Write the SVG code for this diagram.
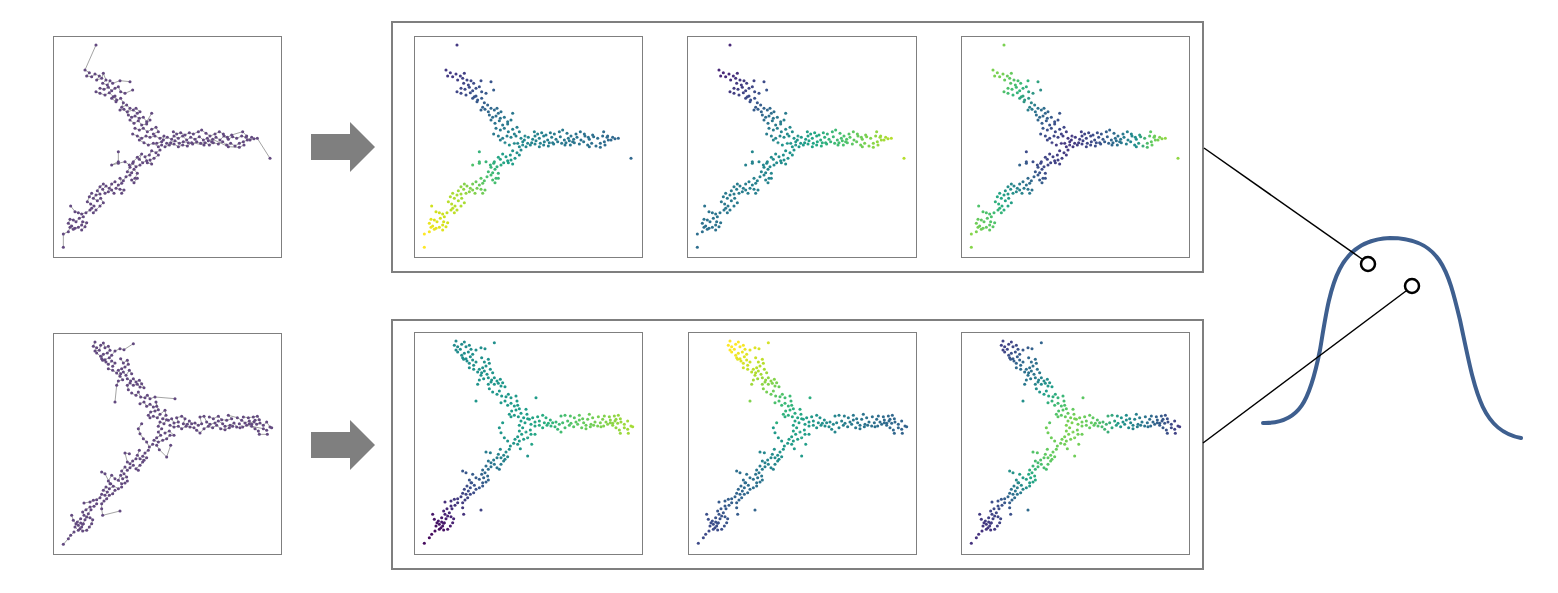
<svg xmlns="http://www.w3.org/2000/svg" xmlns:xlink="http://www.w3.org/1999/xlink" width="1558" height="593" viewBox="0 0 1558 593">
<style>
.frame{fill:#fff;stroke:#7f7f7f;stroke-width:1}
.box{fill:none;stroke:#7f7f7f;stroke-width:2}
.edges{fill:none;stroke:#8c8c8c;stroke-width:2.4;marker-start:url(#mP);marker-mid:url(#mP);marker-end:url(#mP)}
.mw{fill:none;stroke:none;marker-start:url(#mW);marker-mid:url(#mW);marker-end:url(#mW)}
.arrow{fill:#7f7f7f}
.curve{fill:none;stroke:#3e5f8f;stroke-width:4;stroke-linecap:round}
.ring{fill:none;stroke:#000;stroke-width:2.5}
.link{stroke:#000;stroke-width:1.5}
</style>
<defs>
<marker id="mP" markerUnits="userSpaceOnUse" markerWidth="10" markerHeight="10" refX="5" refY="5" overflow="visible"><circle cx="5" cy="5" r="4.6" fill="#634a80"/></marker>
<marker id="mW" markerUnits="userSpaceOnUse" markerWidth="10" markerHeight="10" refX="5" refY="5" overflow="visible"><circle cx="5" cy="5" r="4.6" fill="#fff"/></marker>
<path id="ptsA" d="M138,45 L105,120 L118,128 L110,138 L125,140 L135,132 L148,138 L140,150 L155,145 L160,130 L168,150 L158,160 L172,165 L180,152 L188,160 L210,152 L240,155
M150,175 L162,178 L175,172 L185,182 L195,175 L205,170 L212,185 L225,190 L248,180
M138,185 L150,190 L165,195 L178,188 L190,200 L200,210 L195,198
M185,205 L198,215 L212,205 L220,218 L215,232 L230,225 L240,235 L232,245 L250,240 L262,250 L270,245 L258,235
M210,240 L222,238 L235,255 L245,262 L255,258 L268,265 L280,262 L290,275 L305,250
M240,270 L252,280 L265,272 L275,285 L290,282 L300,270
M255,295 L268,300 L280,295 L292,305 L305,298 L318,292 L325,305 L310,312
M248,312 L262,318 L275,325 L288,318 L300,322 L315,318 L330,325 L342,318 L335,335 L320,340
M268,330 L282,338 L295,345 L310,340 L325,350 L335,345
M340,330 L352,322 L365,328 L372,318 L385,325 L398,318 L410,330 L422,322 L435,328 L448,320 L460,330 L472,325 L485,335 L498,322 L510,330 L522,318 L535,328 L548,320 L560,325 L575,318 L588,322 L600,330 L612,326 L622,325 L660,385
M350,340 L362,338 L375,332 L388,340 L400,335 L415,338 L428,342 L440,335 L452,340 L465,338 L478,345 L490,338 L505,342 L518,335 L530,345 L542,340 L555,348 L568,340 L580,335 L592,330 L605,322
M370,305 L380,312 L392,308 L405,315 L418,308 L430,312 L445,305 L455,300 L468,310 L480,318 L495,312 L508,305 L520,312 L532,322 L545,315 L578,305 L590,318
M345,350 L358,345 L372,342 L385,350 L398,345 L412,348 L425,338 L462,345 L475,332 L488,328 L535,350 L568,352 L582,345
M330,360 L318,368 L305,362 L298,375 L285,380 L290,392 L278,398 L268,388 L275,372 L262,382 L250,395
M325,375 L312,385 L300,390 L305,402 L292,398
M270,405 L258,410 L248,400 L240,412 L232,425 L245,428 L252,418 L262,430 L255,445 L245,450 L252,458 L262,445
M205,365 L205,395 L185,405 L205,400 L225,395 L238,405
M240,435 L228,440 L220,452 L210,445 L215,460 L205,465 L198,475 L210,478 L222,480 L215,490
M195,455 L185,462 L178,475 L168,468 L158,478 L165,490 L175,485 L185,480 L192,490
M160,462 L150,470 L142,482 L150,492 L138,495 L130,505 L142,512 L152,505 L160,518 L150,528 L138,540 L130,548
M125,490 L118,500 L112,515 L122,522 L132,528 L125,535
M120,540 L108,548 L95,552 L85,548 L75,545 L62,528
M100,560 L88,565 L78,575 L70,570 L60,568 L55,580 L65,588 L75,595 L85,592 L95,585 L98,575 L110,578 L105,590 L95,600
M70,598 L60,592 L55,605 L40,612 L40,652"/>
<path id="ptsB" d="M135,45 L130,58 L140,62 L135,72 L148,70 L152,55 L160,48 L165,62 L175,58 L180,70 L172,78 L160,82 L155,95 L165,98 L178,92 L185,85 L195,72 L210,65 L222,68 L250,50
M140,78 L152,88 L158,100 L168,105 L175,112 L185,102 L195,108 L188,118
M212,95 L220,108 L232,100 L235,112 L225,120 L215,125 L205,130 L212,140 L220,135 L228,145 L238,130 L245,140
M175,125 L188,130 L200,138 L210,148 L218,158 L205,162 L200,175 L195,225
M232,155 L242,162 L250,155 L258,165 L268,160 L275,170 L282,182 L270,180 L262,172 L250,175 L240,168 L232,175 L235,188
M245,198 L258,205 L265,195 L272,210 L285,212 L292,205 L300,215 L315,210 L375,215
M270,230 L282,225 L290,238 L300,232 L310,240 L320,238 L318,225 L325,248 L315,252 L302,255 L295,265 L300,272
M310,268 L322,272 L330,262 L345,250 L348,265 L338,275 L350,278 L342,290 L330,285 L325,298
M355,280 L365,275 L372,288 L385,285 L380,272 L395,268 L405,275 L400,290 L412,292 L418,282 L425,290 L435,288 L445,295 L455,290 L450,270 L462,268 L470,285 L480,292 L495,288 L505,282 L518,290 L525,298 L540,295 L552,288 L560,300 L570,302
M360,295 L372,300 L385,298 L395,305 L408,298 L420,300 L432,302 L440,310 L450,318 L462,305 L475,298 L488,302 L500,295 L512,305 L525,308 L538,302 L548,298
M478,270 L490,275 L505,268 L515,278 L530,280 L545,275 L535,265 L562,272 L575,280 L585,288 L598,282 L605,292 L612,285 L620,292 L630,288 L640,295 L650,285 L660,300 L665,302
M580,270 L595,272 L610,270 L622,268 L628,278 L615,280 L598,290 L605,298 L615,305 L625,312 L628,322 L652,322
M568,290 L578,300 L590,295 L640,305 L650,310
M335,305 L325,315 L332,325 L320,332 L312,340 L325,345 L338,340 L350,335 L360,325 L372,325 L358,312 L345,318
M320,355 L328,368 L350,390 L362,355
M308,352 L298,360 L290,345 L280,335 L270,320 L265,305 L275,290
M295,370 L285,378 L278,388 L290,392 L282,400 L270,395 L262,385 L268,370
M258,395 L248,402 L240,410 L232,405 L225,378 L238,380
M250,415 L240,422 L232,430 L225,420 L215,432 L222,440 L230,450 L218,455 L212,445 L205,460 L215,470 L225,468 L232,462
M265,430 L258,425 L270,415 L278,405
M195,455 L185,445 L175,462 L182,470 L190,478 L178,485 L168,480 L160,490 L172,495 L165,505 L155,502 L150,512 L140,518 L130,520 L120,525 L102,528
M195,490 L188,500 L178,505 L170,515 L162,522 L155,530 L155,545 L158,565 L210,552
M155,435 L165,440 L180,470 L205,485 L215,480
M140,530 L132,538 L120,540 L108,548 L98,555 L102,565 L110,570 L120,572 L128,578 L125,590 L118,600 L110,610 L98,612 L90,605 L85,595 L78,590 L70,580 L65,565
M92,575 L82,585 L75,600 L85,610 L95,600 L100,590 L92,588
M123,548 L115,560 L105,578 L98,592
M72,615 L62,625 L55,635 L40,652"/>
<mask id="mA" maskUnits="userSpaceOnUse" x="-50" y="-50" width="800" height="800"><use href="#ptsA" class="mw"/></mask>
<mask id="mB" maskUnits="userSpaceOnUse" x="-50" y="-50" width="800" height="800"><use href="#ptsB" class="mw"/></mask>
<polygon id="tlA" points="330,335 640,-50 -50,-50 -50,380"/>
<polygon id="rA" points="330,335 640,-50 750,-50 750,750 450,750"/>
<polygon id="blA" points="330,335 450,750 -50,750 -50,380"/>
<polygon id="tlB" points="335,292 560,-50 -50,-50 -50,335"/>
<polygon id="rB" points="335,292 560,-50 750,-50 750,750 500,750"/>
<polygon id="blB" points="335,292 500,750 -50,750 -50,335"/>
<linearGradient id="a1t" gradientUnits="userSpaceOnUse" x1="330" y1="335" x2="130" y2="130"><stop offset="0" stop-color="#23898e"/><stop offset="0.35" stop-color="#2c728e"/><stop offset="0.7" stop-color="#3b528b"/><stop offset="1" stop-color="#443983"/></linearGradient>
<linearGradient id="a1r" gradientUnits="userSpaceOnUse" x1="340" y1="330" x2="620" y2="325"><stop offset="0" stop-color="#23898e"/><stop offset="0.3" stop-color="#287c8e"/><stop offset="1" stop-color="#31688e"/></linearGradient>
<linearGradient id="a1b" gradientUnits="userSpaceOnUse" x1="330" y1="355" x2="50" y2="620"><stop offset="0" stop-color="#23898e"/><stop offset="0.15" stop-color="#1fa187"/><stop offset="0.35" stop-color="#4ac16d"/><stop offset="0.6" stop-color="#a5db36"/><stop offset="0.85" stop-color="#d8e219"/><stop offset="1" stop-color="#fde725"/></linearGradient>
<linearGradient id="a2t" gradientUnits="userSpaceOnUse" x1="330" y1="335" x2="130" y2="130"><stop offset="0" stop-color="#1f968b"/><stop offset="0.3" stop-color="#2a788e"/><stop offset="0.6" stop-color="#3b528b"/><stop offset="1" stop-color="#482878"/></linearGradient>
<linearGradient id="a2r" gradientUnits="userSpaceOnUse" x1="340" y1="330" x2="620" y2="325"><stop offset="0" stop-color="#1f968b"/><stop offset="0.2" stop-color="#22a884"/><stop offset="0.5" stop-color="#4ac16d"/><stop offset="0.8" stop-color="#86d549"/><stop offset="1" stop-color="#b5de2b"/></linearGradient>
<linearGradient id="a2b" gradientUnits="userSpaceOnUse" x1="330" y1="355" x2="50" y2="620"><stop offset="0" stop-color="#1f968b"/><stop offset="0.3" stop-color="#25848e"/><stop offset="1" stop-color="#2e6e8e"/></linearGradient>
<linearGradient id="a3t" gradientUnits="userSpaceOnUse" x1="330" y1="335" x2="130" y2="130"><stop offset="0" stop-color="#453781"/><stop offset="0.25" stop-color="#3b528b"/><stop offset="0.5" stop-color="#2a788e"/><stop offset="0.75" stop-color="#35b779"/><stop offset="1" stop-color="#7ad151"/></linearGradient>
<linearGradient id="a3r" gradientUnits="userSpaceOnUse" x1="340" y1="330" x2="620" y2="325"><stop offset="0" stop-color="#453781"/><stop offset="0.3" stop-color="#3b528b"/><stop offset="0.5" stop-color="#2c728e"/><stop offset="0.7" stop-color="#21918c"/><stop offset="0.85" stop-color="#5ec962"/><stop offset="1" stop-color="#8fd744"/></linearGradient>
<linearGradient id="a3b" gradientUnits="userSpaceOnUse" x1="330" y1="355" x2="50" y2="620"><stop offset="0" stop-color="#453781"/><stop offset="0.25" stop-color="#3e4a89"/><stop offset="0.45" stop-color="#2a788e"/><stop offset="0.65" stop-color="#22a884"/><stop offset="0.8" stop-color="#4ac16d"/><stop offset="1" stop-color="#86d549"/></linearGradient>
<linearGradient id="b1t" gradientUnits="userSpaceOnUse" x1="335" y1="290" x2="150" y2="65"><stop offset="0" stop-color="#1f9e89"/><stop offset="0.5" stop-color="#1f968b"/><stop offset="1" stop-color="#228c8d"/></linearGradient>
<linearGradient id="b1r" gradientUnits="userSpaceOnUse" x1="345" y1="290" x2="660" y2="300"><stop offset="0" stop-color="#1f9e89"/><stop offset="0.2" stop-color="#2ab07f"/><stop offset="0.5" stop-color="#5ec962"/><stop offset="1" stop-color="#a5db36"/></linearGradient>
<linearGradient id="b1b" gradientUnits="userSpaceOnUse" x1="330" y1="320" x2="70" y2="610"><stop offset="0" stop-color="#1f9e89"/><stop offset="0.15" stop-color="#21918c"/><stop offset="0.35" stop-color="#2c728e"/><stop offset="0.55" stop-color="#3b528b"/><stop offset="0.85" stop-color="#482475"/><stop offset="1" stop-color="#450b5e"/></linearGradient>
<linearGradient id="b2t" gradientUnits="userSpaceOnUse" x1="335" y1="290" x2="150" y2="65"><stop offset="0" stop-color="#20a386"/><stop offset="0.25" stop-color="#3bbb75"/><stop offset="0.45" stop-color="#7ad151"/><stop offset="0.7" stop-color="#b8de29"/><stop offset="1" stop-color="#fde725"/></linearGradient>
<linearGradient id="b2r" gradientUnits="userSpaceOnUse" x1="345" y1="290" x2="660" y2="300"><stop offset="0" stop-color="#20a386"/><stop offset="0.2" stop-color="#21918c"/><stop offset="0.5" stop-color="#2a788e"/><stop offset="1" stop-color="#33638d"/></linearGradient>
<linearGradient id="b2b" gradientUnits="userSpaceOnUse" x1="330" y1="320" x2="70" y2="610"><stop offset="0" stop-color="#20a386"/><stop offset="0.2" stop-color="#21918c"/><stop offset="0.4" stop-color="#2a788e"/><stop offset="0.6" stop-color="#31688e"/><stop offset="1" stop-color="#3e4a89"/></linearGradient>
<linearGradient id="b3t" gradientUnits="userSpaceOnUse" x1="335" y1="290" x2="150" y2="65"><stop offset="0" stop-color="#7ad151"/><stop offset="0.2" stop-color="#44bf70"/><stop offset="0.4" stop-color="#1f9e89"/><stop offset="0.6" stop-color="#2a788e"/><stop offset="0.8" stop-color="#31688e"/><stop offset="1" stop-color="#414487"/></linearGradient>
<linearGradient id="b3r" gradientUnits="userSpaceOnUse" x1="345" y1="290" x2="660" y2="300"><stop offset="0" stop-color="#7ad151"/><stop offset="0.2" stop-color="#5ec962"/><stop offset="0.45" stop-color="#1f968b"/><stop offset="0.7" stop-color="#2c728e"/><stop offset="1" stop-color="#433e85"/></linearGradient>
<linearGradient id="b3b" gradientUnits="userSpaceOnUse" x1="330" y1="320" x2="70" y2="610"><stop offset="0" stop-color="#7ad151"/><stop offset="0.25" stop-color="#5ec962"/><stop offset="0.45" stop-color="#22a884"/><stop offset="0.6" stop-color="#2a788e"/><stop offset="0.75" stop-color="#3b528b"/><stop offset="1" stop-color="#46327e"/></linearGradient>
</defs>
<rect width="1558" height="593" fill="#fff"/>

<g id="top-input">
<rect class="frame" x="53.5" y="36.5" width="228" height="221"/>
<g transform="translate(50,30) scale(0.33333)"><use href="#ptsA" class="edges"/></g>
</g>
<g id="bottom-input">
<rect class="frame" x="53.5" y="333.5" width="228" height="221"/>
<g transform="translate(50,327) scale(0.33333)"><use href="#ptsB" class="edges"/></g>
</g>

<g id="top-arrow"><polygon class="arrow" points="311,134 350,134 350,122 375,147 350,172 350,160 311,160"/></g>
<g id="bottom-arrow"><polygon class="arrow" points="311,432 350,432 350,420 375,445 350,470 350,458 311,458"/></g>

<g id="top-group">
<rect class="box" x="392" y="22" width="811" height="250"/>
<g id="top-panel-1">
<rect class="frame" x="414.5" y="36.5" width="228" height="221"/>
<g transform="translate(411,30) scale(0.33333)" mask="url(#mA)"><use href="#tlA" fill="url(#a1t)"/><use href="#rA" fill="url(#a1r)"/><use href="#blA" fill="url(#a1b)"/></g>
</g>
<g id="top-panel-2">
<rect class="frame" x="687.5" y="36.5" width="229" height="221"/>
<g transform="translate(684,30) scale(0.33333)" mask="url(#mA)"><use href="#tlA" fill="url(#a2t)"/><use href="#rA" fill="url(#a2r)"/><use href="#blA" fill="url(#a2b)"/></g>
</g>
<g id="top-panel-3">
<rect class="frame" x="961.5" y="36.5" width="228" height="221"/>
<g transform="translate(958,30) scale(0.33333)" mask="url(#mA)"><use href="#tlA" fill="url(#a3t)"/><use href="#rA" fill="url(#a3r)"/><use href="#blA" fill="url(#a3b)"/></g>
</g>
</g>

<g id="bottom-group">
<rect class="box" x="392" y="320" width="811" height="249"/>
<g id="bottom-panel-1">
<rect class="frame" x="414.5" y="332.5" width="228" height="222"/>
<g transform="translate(411,326) scale(0.33333)" mask="url(#mB)"><use href="#tlB" fill="url(#b1t)"/><use href="#rB" fill="url(#b1r)"/><use href="#blB" fill="url(#b1b)"/></g>
</g>
<g id="bottom-panel-2">
<rect class="frame" x="688.5" y="332.5" width="228" height="222"/>
<g transform="translate(685,326) scale(0.33333)" mask="url(#mB)"><use href="#tlB" fill="url(#b2t)"/><use href="#rB" fill="url(#b2r)"/><use href="#blB" fill="url(#b2b)"/></g>
</g>
<g id="bottom-panel-3">
<rect class="frame" x="961.5" y="332.5" width="228" height="222"/>
<g transform="translate(958,326) scale(0.33333)" mask="url(#mB)"><use href="#tlB" fill="url(#b3t)"/><use href="#rB" fill="url(#b3r)"/><use href="#blB" fill="url(#b3b)"/></g>
</g>
</g>

<g id="distribution">
<path class="curve" d="M1263,423 C1300,424 1310,400 1320,350 C1330,290 1335,240 1390,238 C1440,238 1448,270 1460,320 C1475,390 1480,430 1521,438"/>
</g>
<g id="connectors">
<line class="link" x1="1204" y1="148" x2="1362" y2="259"/>
<line class="link" x1="1203" y1="443" x2="1406" y2="291"/>
</g>
<g id="point-top"><circle class="ring" cx="1368" cy="264" r="7"/></g>
<g id="point-bottom"><circle class="ring" cx="1412" cy="286" r="7"/></g>
</svg>
